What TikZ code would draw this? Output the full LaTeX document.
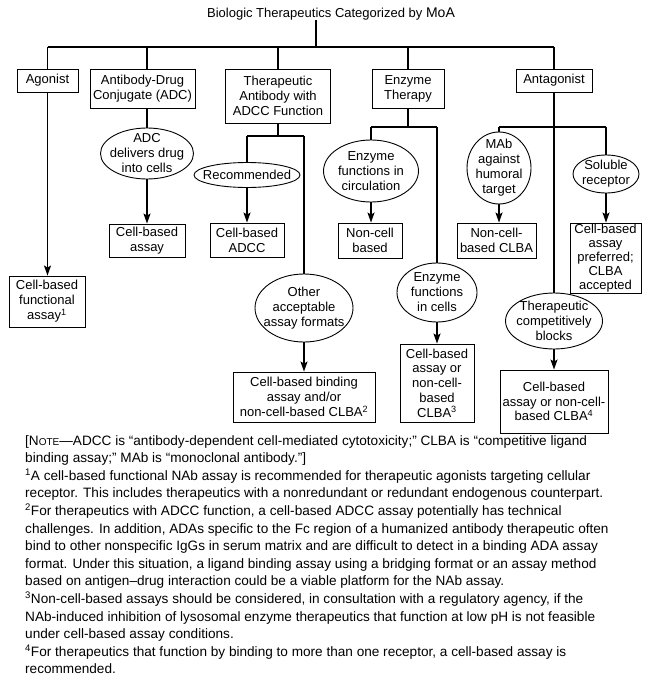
\documentclass[tikz,border=0pt]{standalone}
\usepackage{fontspec}
\setmainfont{Liberation Sans}
\usetikzlibrary{arrows.meta, shapes.geometric}

\begin{document}
\begin{tikzpicture}[x=1pt, y=-1pt,
    box/.style={draw, line width=0.9pt, align=center, inner sep=0pt,
                font=\fontsize{13}{15}\selectfont},
    oval/.style={draw, ellipse, line width=0.9pt, inner sep=0pt},
    lbl/.style={align=center, inner sep=0pt, font=\fontsize{13}{15}\selectfont},
    link/.style={line width=1.5pt},
    arr/.style={line width=1.5pt, -{Stealth[length=10pt, width=7pt, inset=2pt]}}
  ]
  \useasboundingbox (0,0) rectangle (652,682);
  \node[lbl] (title) at (331,14) {Biologic Therapeutics Categorized by {\fontsize{14}{15}\selectfont MoA}};
  \coordinate (hub) at (316,47);

  \node[box, minimum width=61pt, minimum height=23pt] (agon) at (47.5,80.5) {Agonist};
  \node[box, minimum width=105pt, minimum height=39pt] (adc) at (142.5,88.5) {Antibody-Drug\\Conjugate (ADC)};
  \node[box, minimum width=105pt, minimum height=54pt] (ta) at (278,96) {Therapeutic\\Antibody with\\ADCC Function};
  \node[box, minimum width=72pt, minimum height=39pt] (enz) at (408,88.5) {Enzyme\\Therapy};
  \node[box, minimum width=76pt, minimum height=23pt] (anta) at (554,80.5) {Antagonist};

  \node[oval, minimum width=93pt, minimum height=51pt, label={[lbl]center:ADC\\delivers drug\\into cells}] (adcell) at (147,153.5) {};
  \node[oval, minimum width=106pt, minimum height=25pt, label={[lbl]center:Recommended}] (rec) at (247,175) {};
  \node[oval, minimum width=98pt, minimum height=68pt, label={[lbl]center:Other\\acceptable\\assay formats}] (other) at (304,308) {};
  \node[oval, minimum width=95pt, minimum height=62pt, label={[lbl]center:Enzyme\\functions in\\circulation}] (circ) at (371,171) {};
  \node[oval, minimum width=80pt, minimum height=59pt, label={[lbl]center:Enzyme\\functions\\in cells}] (cells) at (437,292.5) {};
  \node[oval, minimum width=64pt, minimum height=72pt, label={[lbl]center:MAb\\against\\humoral\\target}] (mab) at (499,168) {};
  \node[oval, minimum width=66pt, minimum height=38pt, label={[lbl]center:Soluble\\receptor}] (sol) at (606,174) {};
  \node[oval, minimum width=97pt, minimum height=56pt, label={[lbl]center:Therapeutic\\competitively\\blocks}] (comp) at (554,321) {};

  \node[box, minimum width=76pt, minimum height=51pt] (funct) at (47,301.5) {Cell-based\\functional\\assay\textsuperscript{1}};
  \node[box, minimum width=76pt, minimum height=33pt] (cba) at (147,240.5) {Cell-based\\assay};
  \node[box, minimum width=74pt, minimum height=34pt] (adcc) at (247,240) {Cell-based\\ADCC};
  \node[box, minimum width=142pt, minimum height=50pt] (bind) at (304,397) {Cell-based binding\\assay and/or\\non-cell-based CLBA\textsuperscript{2}};
  \node[box, minimum width=64pt, minimum height=35pt] (ncb) at (370,240.5) {Non-cell\\based};
  \node[box, minimum width=74pt, minimum height=78pt, font=\fontsize{13}{14.7}\selectfont] (cbor) at (437,383) {Cell-based\\assay or\\non-cell-\\based\\CLBA\textsuperscript{3}};
  \node[box, minimum width=79pt, minimum height=35pt] (nclba) at (496.5,240.5) {Non-cell-\\based CLBA};
  \node[box, minimum width=71pt, minimum height=70pt, font=\fontsize{13}{14}\selectfont] (pref) at (605.5,258) {Cell-based\\assay\\preferred;\\CLBA\\accepted};
  \node[box, minimum width=108pt, minimum height=63pt, font=\fontsize{13}{14.5}\selectfont] (cbor4) at (554,401.5) {Cell-based\\assay or non-cell-\\based CLBA\textsuperscript{4}};

  \draw[link] (hub |- title.south) -- (hub);
  \draw[link] (agon |- hub) -- (anta |- hub);
  \draw[link] (agon |- hub) -- (agon);
  \draw[link] (adcell |- hub) -- (adcell |- adc.north);
  \draw[link] (ta |- hub) -- (ta);
  \draw[link] (enz |- hub) -- (enz);
  \draw[link] (anta |- hub) -- (anta);

  \draw[arr] (agon) -- (agon |- funct.north);
  \draw[link] (adc.south -| adcell) -- (adcell);
  \draw[arr] (adcell) -- (adcell |- cba.north);

  \coordinate (tajoin) at (278,136);
  \draw[link] (ta) -- (tajoin);
  \draw[link] (rec |- tajoin) -- (other |- tajoin);
  \draw[link] (rec |- tajoin) -- (rec);
  \draw[link] (other |- tajoin) -- (other);
  \draw[arr] (rec) -- (rec |- adcc.north);
  \draw[arr] (other) -- (other |- bind.north);

  \coordinate (enzjoin) at (408,127);
  \draw[link] (enz) -- (enzjoin);
  \draw[link] (circ |- enzjoin) -- (cells |- enzjoin);
  \draw[link] (circ |- enzjoin) -- (circ);
  \draw[link] (cells |- enzjoin) -- (cells);
  \draw[arr] (circ) -- (circ |- ncb.north);
  \draw[arr] (cells) -- (cells |- cbor.north);

  \coordinate (antjoin) at (554,127);
  \draw[link] (anta) -- (comp);
  \draw[link] (mab |- antjoin) -- (sol |- antjoin);
  \draw[link] (mab |- antjoin) -- (mab);
  \draw[link] (sol |- antjoin) -- (sol);
  \draw[arr] (mab) -- (mab |- nclba.north);
  \draw[arr] (sol) -- (sol |- pref.north);
  \draw[arr] (comp) -- (comp |- cbor4.north);

  \node[anchor=north west, align=left, inner sep=0pt, font=\fontsize{13.6}{17.6}\selectfont] (notes) at (25,435) {%
    [N{\fontsize{10}{10}\selectfont OTE}—ADCC is “antibody-dependent cell-mediated cytotoxicity;” CLBA is “competitive ligand\\
    binding assay;” MAb is “monoclonal antibody.”]\\
    \textsuperscript{1}A cell-based functional NAb assay is recommended for therapeutic agonists targeting cellular\\
    receptor. This includes therapeutics with a nonredundant or redundant endogenous counterpart.\\
    \textsuperscript{2}For therapeutics with ADCC function, a cell-based ADCC assay potentially has technical\\
    challenges. In addition, ADAs specific to the Fc region of a humanized antibody therapeutic often\\
    bind to other nonspecific IgGs in serum matrix and are difficult to detect in a binding ADA assay\\
    format. Under this situation, a ligand binding assay using a bridging format or an assay method\\
    based on antigen--drug interaction could be a viable platform for the NAb assay.\\
    \textsuperscript{3}Non-cell-based assays should be considered, in consultation with a regulatory agency, if the\\
    NAb-induced inhibition of lysosomal enzyme therapeutics that function at low pH is not feasible\\
    under cell-based assay conditions.\\
    \textsuperscript{4}For therapeutics that function by binding to more than one receptor, a cell-based assay is\\
    recommended.};
\end{tikzpicture}
\end{document}
